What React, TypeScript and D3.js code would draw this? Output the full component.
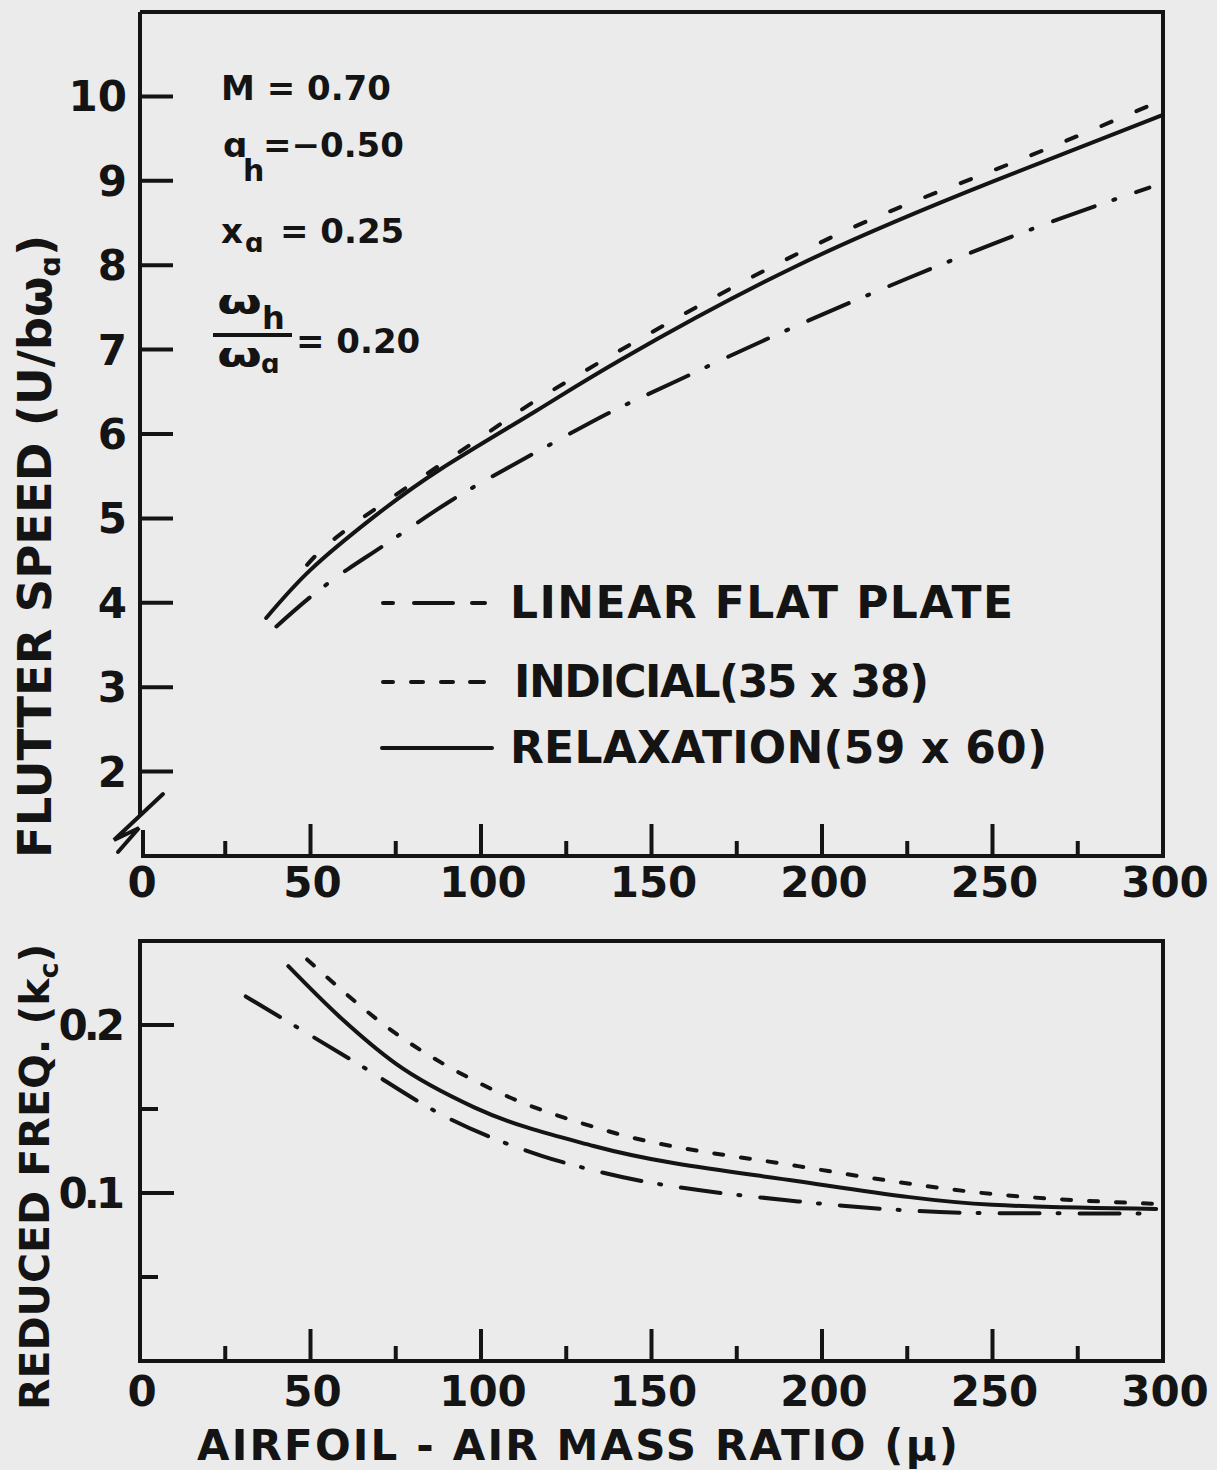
import React from "react";
import * as d3 from "d3";

// ---------- data ----------
const MU_LABELS = [0, 50, 100, 150, 200, 250, 300];
const MU_MINOR = [25, 75, 125, 175, 225, 275];
const MU_MAJOR = [50, 100, 150, 200, 250];
const V_TICKS = [2, 3, 4, 5, 6, 7, 8, 9, 10];
const K_MAJOR = [0.1, 0.2];
const K_MINOR = [0.05, 0.15];

// Flutter speed U/(b*omega_a) vs mu
const relaxMu = [37, 50, 68, 88, 116, 141, 193, 250, 300];
const relaxV = [3.82, 4.39, 5.0, 5.58, 6.27, 6.88, 8.0, 8.99, 9.78];
const indicialMu = [49, 64, 100, 126, 193, 250, 300];
const indicialV = [4.45, 4.97, 5.96, 6.64, 8.14, 9.12, 9.96];
const linearMu = [40, 50, 61, 73, 90, 107, 125, 140, 158, 193, 250, 296];
const linearV = [3.72, 4.07, 4.4, 4.72, 5.18, 5.58, 5.98, 6.3, 6.64, 7.29, 8.25, 8.92];

// Reduced frequency k_c vs mu
const relaxKMu = [43.5, 59, 75, 98, 133, 193, 250, 298];
const relaxK = [0.235, 0.204, 0.177, 0.151, 0.128, 0.107, 0.093, 0.0905];
const indicialKMu = [49, 75, 104, 137, 193, 250, 298];
const indicialK = [0.239, 0.195, 0.161, 0.137, 0.116, 0.0994, 0.0935];
const linearKMu = [31, 63, 90, 118, 135, 193, 250, 296];
const linearK = [0.217, 0.178, 0.145, 0.122, 0.1125, 0.095, 0.088, 0.0878];

// ---------- style ----------
const INK = "#141414";
const BG = "#ebebeb";
const FONT = "'DejaVu Sans', 'Liberation Sans', sans-serif";

const zip = (xs: number[], ys: number[]) => xs.map((x, i) => [x, ys[i]] as [number, number]);

export default function App() {
  const W = 1217;
  const H = 1470;

  const x = d3.scaleLinear().domain([0, 300]).range([140, 1163]);
  const yTop = d3.scaleLinear().domain([1, 11]).range([856, 12]);
  const yBot = d3.scaleLinear().domain([0, 0.25]).range([1361, 941]);

  const lineTop = d3
    .line<[number, number]>()
    .x((d) => x(d[0]))
    .y((d) => yTop(d[1]))
    .curve(d3.curveNatural);
  const lineBot = d3
    .line<[number, number]>()
    .x((d) => x(d[0]))
    .y((d) => yBot(d[1]))
    .curve(d3.curveMonotoneX);

  const topL = x(0);
  const topR = x(300);
  const topT = yTop(11);
  const topB = yTop(1);
  const botT = yBot(0.25);
  const botB = yBot(0);

  const curveStyle = {
    fill: "none",
    stroke: INK,
    strokeWidth: 4,
    strokeLinecap: "round" as const,
    strokeLinejoin: "round" as const,
  };

  const tickStyle = { stroke: INK, strokeWidth: 4 };
  const label = { fontFamily: FONT, fontWeight: 700 as const, fill: INK };

  return (
    <svg
      width={W}
      height={H}
      viewBox={`0 0 ${W} ${H}`}
      style={{ position: "absolute", left: 0, top: 0, display: "block" }}
    >
      <rect x={0} y={0} width={W} height={H} fill={BG} />

      {/* ================= TOP PANEL ================= */}
      {/* frame with axis break */}
      <path
        d={`M${topL},${topT} H${topR} V${topB} H${topL + 3} V${topB - 26}`}
        fill="none"
        stroke={INK}
        strokeWidth={4}
        strokeLinejoin="miter"
      />
      <path d={`M${topL},${topT} V${topB - 41}`} fill="none" stroke={INK} strokeWidth={4} />
      <path
        d={`M${topL + 23},${topB - 62} L${topL - 26},${topB - 16} L${topL - 1},${topB - 28} L${topL - 22},${topB - 4}`}
        fill="none"
        stroke={INK}
        strokeWidth={4}
        strokeLinejoin="miter"
        strokeLinecap="round"
      />

      {/* y ticks & labels */}
      {V_TICKS.map((v) => (
        <g key={"vt" + v}>
          <line x1={topL} x2={topL + 33} y1={yTop(v)} y2={yTop(v)} {...tickStyle} />
          <text x={127} y={yTop(v) + 15} textAnchor="end" fontSize={42} {...label}>
            {v}
          </text>
        </g>
      ))}

      {/* x ticks */}
      {MU_MAJOR.map((m) => (
        <line key={"mt" + m} x1={x(m)} x2={x(m)} y1={topB} y2={topB - 32} {...tickStyle} />
      ))}
      {MU_MINOR.map((m) => (
        <line key={"mn" + m} x1={x(m)} x2={x(m)} y1={topB} y2={topB - 15} {...tickStyle} />
      ))}
      {MU_LABELS.map((m) => (
        <text key={"ml" + m} x={x(m) + 2} y={897} textAnchor="middle" fontSize={42} {...label}>
          {m}
        </text>
      ))}

      {/* curves */}
      <path d={lineTop(zip(relaxMu, relaxV)) || ""} {...curveStyle} />
      <path d={lineTop(zip(indicialMu, indicialV)) || ""} {...curveStyle} strokeDasharray="11,27" />
      <path d={lineTop(zip(linearMu, linearV)) || ""} {...curveStyle} strokeDasharray="44,20,2,22" />

      {/* parameter annotations */}
      <text x={221} y={100} fontSize={34} {...label}>M = 0.70</text>
      <text x={223} y={157} fontSize={34} {...label}>ɑ</text>
      <text x={243} y={181} fontSize={30} {...label}>h</text>
      <text x={263} y={157} fontSize={34} {...label}>=−0.50</text>
      <text x={221} y={243} fontSize={34} {...label}>x</text>
      <text x={245} y={252} fontSize={26} {...label}>ɑ</text>
      <text x={280} y={243} fontSize={34} {...label}>= 0.25</text>
      <text x={217} y={314} fontSize={34} textLength={45} lengthAdjust="spacingAndGlyphs" {...label}>ω</text>
      <text x={262} y={329} fontSize={32} {...label}>h</text>
      <line x1={213} x2={292} y1={335} y2={335} stroke={INK} strokeWidth={4} />
      <text x={217} y={367} fontSize={34} textLength={45} lengthAdjust="spacingAndGlyphs" {...label}>ω</text>
      <text x={261} y={373} fontSize={26} {...label}>ɑ</text>
      <text x={296} y={353} fontSize={34} {...label}>= 0.20</text>

      {/* legend */}
      <line x1={383} x2={393} y1={603} y2={603} {...curveStyle} />
      <line x1={414} x2={453} y1={603} y2={603} {...curveStyle} />
      <line x1={472} x2={485} y1={603} y2={603} {...curveStyle} />
      <text x={510} y={618} fontSize={44} textLength={503} lengthAdjust="spacing" {...label}>
        LINEAR FLAT PLATE
      </text>

      <line x1={383} x2={393} y1={682} y2={682} {...curveStyle} />
      <line x1={411} x2={423} y1={682} y2={682} {...curveStyle} />
      <line x1={441} x2={453} y1={682} y2={682} {...curveStyle} />
      <line x1={470} x2={484} y1={682} y2={682} {...curveStyle} />
      <text x={514} y={697} fontSize={44} textLength={415} lengthAdjust="spacing" {...label}>
        INDICIAL(35 x 38)
      </text>

      <line x1={382} x2={492} y1={748} y2={748} {...curveStyle} />
      <text x={510} y={763} fontSize={44} textLength={537} lengthAdjust="spacing" {...label}>
        RELAXATION(59 x 60)
      </text>

      {/* y title */}
      <text transform={`translate(51,858) rotate(-90)`} fontSize={46.5} {...label}>
        FLUTTER SPEED (U/bω
        <tspan fontSize={29} dy={9}>ɑ</tspan>
        <tspan dy={-9}>)</tspan>
      </text>

      {/* ================= BOTTOM PANEL ================= */}
      <rect
        x={topL}
        y={botT}
        width={topR - topL}
        height={botB - botT}
        fill="none"
        stroke={INK}
        strokeWidth={4}
      />
      {K_MAJOR.map((k) => (
        <g key={"km" + k}>
          <line x1={topL} x2={topL + 34} y1={yBot(k)} y2={yBot(k)} {...tickStyle} />
          <text
            x={121}
            y={yBot(k) + 15}
            textAnchor="end"
            fontSize={42}
            letterSpacing={-4}
            {...label}
          >
            {k.toFixed(1)}
          </text>
        </g>
      ))}
      {K_MINOR.map((k) => (
        <line key={"kn" + k} x1={topL} x2={topL + 18} y1={yBot(k)} y2={yBot(k)} {...tickStyle} />
      ))}
      {MU_MAJOR.map((m) => (
        <line key={"bmt" + m} x1={x(m)} x2={x(m)} y1={botB} y2={botB - 32} {...tickStyle} />
      ))}
      {MU_MINOR.map((m) => (
        <line key={"bmn" + m} x1={x(m)} x2={x(m)} y1={botB} y2={botB - 15} {...tickStyle} />
      ))}
      {MU_LABELS.map((m) => (
        <text key={"bml" + m} x={x(m) + 2} y={1406} textAnchor="middle" fontSize={42} {...label}>
          {m}
        </text>
      ))}

      <path d={lineBot(zip(relaxKMu, relaxK)) || ""} {...curveStyle} />
      <path d={lineBot(zip(indicialKMu, indicialK)) || ""} {...curveStyle} strokeDasharray="9,18" />
      <path d={lineBot(zip(linearKMu, linearK)) || ""} {...curveStyle} strokeDasharray="40,18,2,20" />

      <text transform={`translate(49,1410) rotate(-90)`} fontSize={41} {...label}>
        REDUCED FREQ. (k
        <tspan fontSize={27} dy={9}>c</tspan>
        <tspan dy={-9}>)</tspan>
      </text>

      <text x={197} y={1460} fontSize={42} textLength={761} lengthAdjust="spacing" {...label}>
        AIRFOIL - AIR MASS RATIO (μ)
      </text>
    </svg>
  );
}
